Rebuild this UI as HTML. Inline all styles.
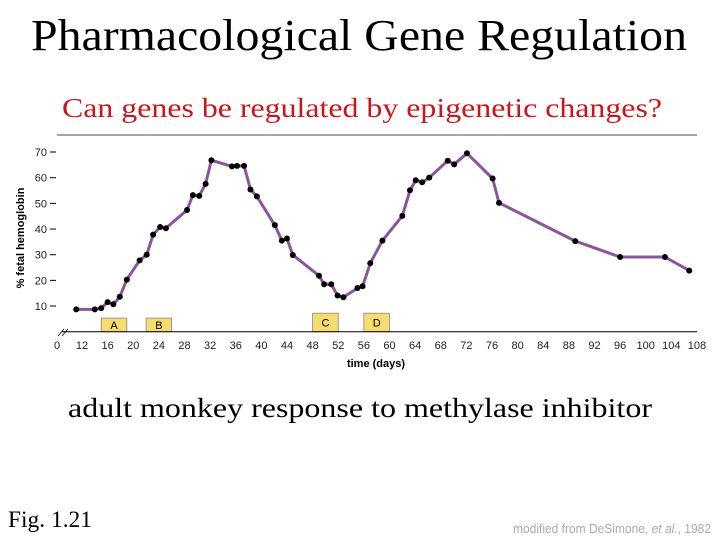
<!DOCTYPE html>
<html><head><meta charset="utf-8"><style>html,body{margin:0;padding:0;background:#fff}svg{display:block}</style></head>
<body>
<svg id="chart" width="720" height="540" viewBox="0 0 720 540" xmlns="http://www.w3.org/2000/svg">
<rect width="720" height="540" fill="#fff"/>
<text x="359" y="50" font-family="Liberation Serif, serif" font-size="44" text-anchor="middle" textLength="656" lengthAdjust="spacingAndGlyphs">Pharmacological Gene Regulation</text>
<text x="362" y="117" font-family="Liberation Serif, serif" font-size="27" fill="#c8161d" text-anchor="middle" textLength="600" lengthAdjust="spacingAndGlyphs">Can genes be regulated by epigenetic changes?</text>
<line x1="57" y1="135" x2="697" y2="135" stroke="#888" stroke-width="1.5"/>
<text x="360" y="417" font-family="Liberation Serif, serif" font-size="27" text-anchor="middle" textLength="584" lengthAdjust="spacingAndGlyphs">adult monkey response to methylase inhibitor</text>
<text x="8" y="527" font-family="Liberation Serif, serif" font-size="23" textLength="84" lengthAdjust="spacingAndGlyphs">Fig. 1.21</text>
<text x="711" y="533" font-family="Liberation Sans, sans-serif" font-size="13" fill="#aaa" text-anchor="end" textLength="198" lengthAdjust="spacingAndGlyphs">modified from DeSimone, <tspan font-style="italic">et al.</tspan>, 1982</text>
<g id="plot"></g>
</svg>
<script>
const days = [11.1,14,15,16,16.9,17.9,19,21,22.1,23.1,24.2,25.1,28.4,29.3,30.3,31.3,32.2,35.4,36.2,37.3,38.3,39.3,42.1,43.2,44,44.9,49,49.8,50.9,51.9,52.8,55,55.8,57,58.9,62,63.2,64.1,65.1,66.2,69.1,70.1,72.1,76.1,77.1,89,96,103,106.8];
const hbValues = [8.7,8.7,9.2,11.5,10.7,13.6,20.3,27.8,30,37.8,40.8,40.3,47.4,53.2,52.9,57.6,66.8,64.4,64.6,64.6,55.4,52.7,41.5,35.5,36.3,29.9,21.8,18.5,18.5,14.1,13.4,17,17.7,26.7,35.5,45.1,55.1,59,58.2,60,66.6,65.2,69.5,59.7,50.2,35.3,29.1,29.1,23.8];
const xTicks = [12,16,20,24,28,32,36,40,44,48,52,56,60,64,68,72,76,80,84,88,92,96,100,104,108];
const yTicks = [10,20,30,40,50,60,70];
const treatLabels = ['A','B','C','D'];
const treatStart = [15,22,48,56];
const treatEnd = [19,26,52,60];
const treatHeight = [5.3,5.3,7.2,7.2];

const NS='http://www.w3.org/2000/svg';
const g=document.getElementById('plot');
const xs=d=>82+(d-12)*6.406;
const ys=v=>331.7-v*2.567;
function el(tag,attrs,parent){const e=document.createElementNS(NS,tag);for(const k in attrs)e.setAttribute(k,attrs[k]);(parent||g).appendChild(e);return e;}

treatLabels.forEach((l,i)=>{
  const r=el('rect',{x:xs(treatStart[i]),y:ys(treatHeight[i]),width:xs(treatEnd[i])-xs(treatStart[i]),height:ys(0)-ys(treatHeight[i]),fill:'#f7dc6f',stroke:'#888','stroke-width':0.8});
  
  
  const t=el('text',{x:(xs(treatStart[i])+xs(treatEnd[i]))/2,y:(ys(treatHeight[i])+ys(0))/2+4,'font-family':'Liberation Sans, sans-serif','font-size':11,'text-anchor':'middle'});
  t.textContent=l;
  
  
});
const ax=el('line',{x1:62,y1:ys(0),x2:697,y2:ys(0),stroke:'#000','stroke-width':1});


const br=el('path',{d:'M58 336 L64 329 M62 336 L68 329',stroke:'#000','stroke-width':0.8,fill:'none'});


const z=el('text',{x:57,y:349,'font-family':'Liberation Sans, sans-serif','font-size':11,'text-anchor':'middle',fill:'#222'});
z.textContent='0';


xTicks.forEach(d=>{
  const t=el('text',{x:xs(d),y:349,'font-family':'Liberation Sans, sans-serif','font-size':11,'text-anchor':'middle',fill:'#222'});
  t.textContent=d;
  
  
});
const xt=el('text',{x:376,y:367,'font-family':'Liberation Sans, sans-serif','font-size':11,'font-weight':'bold','text-anchor':'middle'});
xt.textContent='time (days)';


yTicks.forEach(v=>{
  const l=el('line',{x1:50,y1:ys(v),x2:56,y2:ys(v),stroke:'#000','stroke-width':1});
  
  
  const t=el('text',{x:47,y:ys(v)+4,'font-family':'Liberation Sans, sans-serif','font-size':11,'text-anchor':'end',fill:'#222'});
  t.textContent=v;
  
  
});
const yt=el('text',{x:0,y:0,transform:'translate(24,238) rotate(-90)','font-family':'Liberation Sans, sans-serif','font-size':11,'font-weight':'bold','text-anchor':'middle'});
yt.textContent='% fetal hemoglobin';


const pts=days.map((d,i)=>xs(d).toFixed(1)+','+ys(hbValues[i]).toFixed(1)).join(' ');
const pl=el('polyline',{points:pts,fill:'none',stroke:'#8b559b','stroke-width':3,'stroke-linejoin':'round'});


days.forEach((d,i)=>{
  const c=el('circle',{cx:xs(d),cy:ys(hbValues[i]),r:3,fill:'#000'});
  
  
});
</script>
</body></html>
